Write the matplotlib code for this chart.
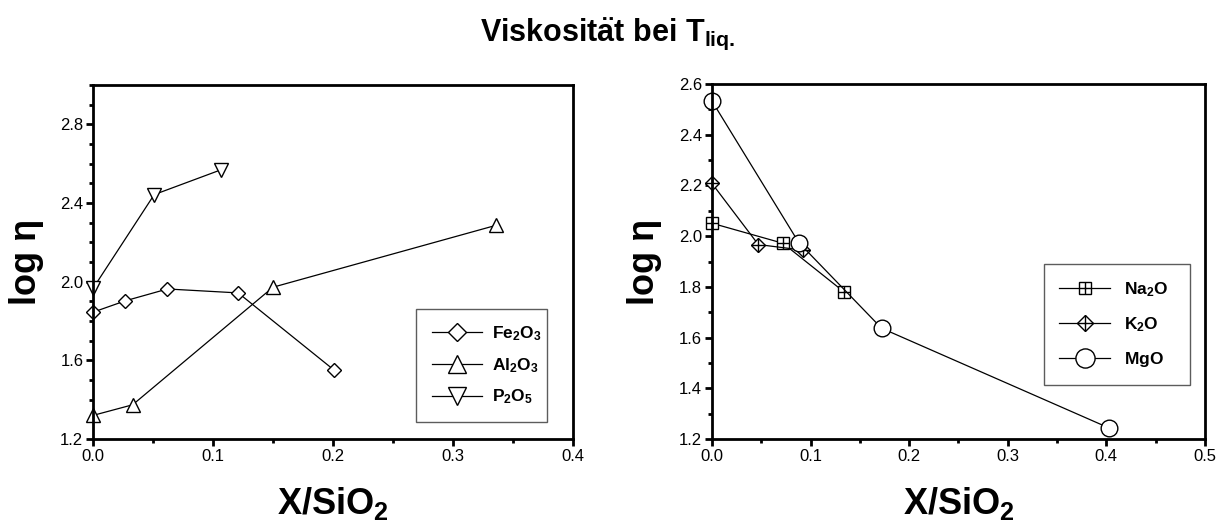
import numpy as np
import matplotlib
matplotlib.use('Agg')
import matplotlib.pyplot as plt
from matplotlib.ticker import MultipleLocator, FormatStrFormatter

plt.rcParams['font.family'] = ['Liberation Sans', 'DejaVu Sans']
plt.rcParams['mathtext.fontset'] = 'custom'
plt.rcParams['mathtext.rm'] = 'Liberation Sans'
plt.rcParams['mathtext.bf'] = 'Liberation Sans:bold'
plt.rcParams['mathtext.it'] = 'Liberation Sans:italic'

# left panel: Fe2O3, Al2O3, P2O5
fe_x = [0.0, 0.027, 0.062, 0.121, 0.201]
fe_y = [1.845, 1.903, 1.963, 1.943, 1.550]
al_x = [0.0, 0.033, 0.150, 0.336]
al_y = [1.320, 1.374, 1.972, 2.287]
p_x = [0.0, 0.051, 0.107]
p_y = [1.966, 2.443, 2.570]

# right panel: Na2O, K2O, MgO
na_x = [0.0, 0.072, 0.134]
na_y = [2.051, 1.972, 1.780]
k_x = [0.0, 0.047, 0.092]
k_y = [2.208, 1.967, 1.945]
mg_x = [0.0, 0.088, 0.172, 0.403]
mg_y = [2.533, 1.975, 1.637, 1.243]

lw = 0.9
fig = plt.figure(figsize=(12.16, 5.22), dpi=100)
ax1 = fig.add_axes([0.0765, 0.159, 0.3947, 0.678])
ax2 = fig.add_axes([0.5855, 0.159, 0.4054, 0.680])

mk = dict(color='k', lw=lw, mfc='white', mec='k', mew=1.0, clip_on=False)
h_fe, = ax1.plot(fe_x, fe_y, marker='D', ms=7.4, label=r'$\mathbf{Fe_2O_3}$', **mk)
h_al, = ax1.plot(al_x, al_y, marker='^', ms=10.5, label=r'$\mathbf{Al_2O_3}$', **mk)
h_p, = ax1.plot(p_x, p_y, marker='v', ms=10.5, label=r'$\mathbf{P_2O_5}$', **mk)

# crossed markers: open marker plus a '+' drawn on top
h_na, = ax2.plot(na_x, na_y, marker='s', ms=8, **mk)
h_na2, = ax2.plot(na_x, na_y, ls='none', marker='+', ms=8, mec='k', mew=1.0, clip_on=False)
h_k, = ax2.plot(k_x, k_y, marker='D', ms=7.2, **mk)
h_k2, = ax2.plot(k_x, k_y, ls='none', marker='+', ms=10.2, mec='k', mew=1.0, clip_on=False)
h_mg, = ax2.plot(mg_x, mg_y, marker='o', ms=12, **mk)

ax1.set_xlim(0, 0.4)
ax1.set_ylim(1.2, 3.0)
ax1.xaxis.set_major_locator(MultipleLocator(0.1))
ax1.xaxis.set_minor_locator(MultipleLocator(0.05))
ax1.yaxis.set_minor_locator(MultipleLocator(0.1))
ax1.set_yticks([1.2, 1.6, 2.0, 2.4, 2.8])

ax2.set_xlim(0, 0.5)
ax2.set_ylim(1.2, 2.6)
ax2.xaxis.set_major_locator(MultipleLocator(0.1))
ax2.xaxis.set_minor_locator(MultipleLocator(0.05))
ax2.yaxis.set_major_locator(MultipleLocator(0.2))
ax2.yaxis.set_minor_locator(MultipleLocator(0.1))

for ax in (ax1, ax2):
    for s in ax.spines.values():
        s.set_linewidth(2.0)
    ax.tick_params(which='major', direction='out', length=5, width=2, labelsize=12, pad=2)
    ax.tick_params(which='minor', direction='out', length=3, width=2)
    ax.xaxis.set_major_formatter(FormatStrFormatter('%.1f'))
    ax.yaxis.set_major_formatter(FormatStrFormatter('%.1f'))
    ax.set_xlabel(r'$\mathbf{X/SiO_2}$', fontsize=26, labelpad=15)
    ax.set_ylabel('log η', fontsize=26, fontweight='bold', labelpad=12)

leg1 = ax1.legend(handles=[h_fe, h_al, h_p], loc='lower left', bbox_to_anchor=(0.673, 0.048, 0.273, 0.314),
                  mode='expand', borderaxespad=0, fontsize=12.5, frameon=True, fancybox=False,
                  handlelength=2.9, labelspacing=0.75, markerscale=1.2, borderpad=0.9, handletextpad=0.6)
leg1.get_frame().set_edgecolor('#333333')
leg1.get_frame().set_linewidth(1.0)

leg2 = ax2.legend(handles=[(h_na, h_na2), (h_k, h_k2), h_mg],
                  labels=[r'$\mathbf{Na_2O}$', r'$\mathbf{K_2O}$', r'$\mathbf{MgO}$'],
                  loc='lower left', bbox_to_anchor=(0.673, 0.152, 0.297, 0.316),
                  mode='expand', borderaxespad=0, fontsize=12.5, frameon=True, fancybox=False,
                  handlelength=2.9, labelspacing=0.95, markerscale=1.15, borderpad=0.9, handletextpad=0.8)
leg2.get_frame().set_edgecolor('#333333')
leg2.get_frame().set_linewidth(1.0)

fig.text(0.5, 0.922, r'$\mathbf{Viskosit\ddot{a}t\ bei\ T_{liq.}}$', ha='center', va='baseline', fontsize=22)

fig.savefig('out.png', dpi=100)
